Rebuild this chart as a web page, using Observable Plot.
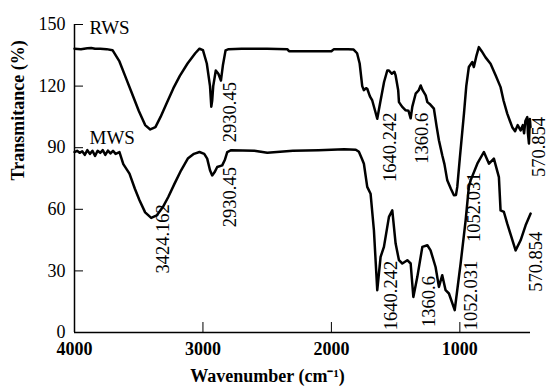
<!DOCTYPE html>
<html>
<head>
<meta charset="utf-8">
<script src="https://cdn.jsdelivr.net/npm/d3@7"></script>
<script src="https://cdn.jsdelivr.net/npm/@observablehq/plot@0.6"></script>
<style>
  html, body { margin: 0; padding: 0; background: #fff; }
  svg text { font-family: "Liberation Serif", "Times New Roman", serif; }
</style>
</head>
<body>
<div id="chart"></div>
<script>
// RWS spectrum (wavenumber cm-1, transmittance %)
const rwsWavenumber = [4000, 3950, 3900, 3870, 3840, 3800, 3750, 3704, 3650, 3600, 3550, 3500, 3450, 3410, 3370, 3330, 3280, 3230, 3180, 3120, 3060, 3027, 3000, 2970, 2945, 2935, 2928, 2920, 2900, 2880, 2860, 2845, 2824, 2800, 2700, 2600, 2500, 2344, 2330, 2000, 1980, 1870, 1827, 1800, 1780, 1760, 1747, 1730, 1721, 1700, 1682, 1660, 1643, 1620, 1590, 1565, 1552, 1530, 1510, 1500, 1480, 1474, 1450, 1422, 1400, 1383, 1370, 1344, 1320, 1305, 1290, 1266, 1253, 1230, 1202, 1180, 1163, 1137, 1120, 1098, 1070, 1046, 1030, 1020, 1000, 968, 950, 930, 903, 891, 870, 852, 830, 800, 761, 720, 683, 660, 631, 610, 592, 570, 550, 527, 510, 500, 490, 475, 470, 462, 455, 450];
const rwsT = [138.2, 138.0, 138.4, 138.6, 138.2, 138.2, 138.0, 137.5, 132, 124, 116, 108, 101, 98.9, 100, 105, 112, 119, 125, 131, 136, 138.2, 137.5, 131, 120, 110, 113, 120, 127.6, 126, 122.7, 130, 137.4, 138, 138.2, 138.2, 138.2, 138, 137, 137, 138, 138, 137.8, 136, 131, 120, 118, 119, 118.7, 115, 113, 108, 104.1, 112, 122, 127.6, 127.6, 126, 127, 125.2, 118, 112.2, 110, 108.2, 108, 104.3, 110, 116.3, 118, 120.3, 118, 115.5, 112.2, 111, 109, 100, 93.6, 86.3, 82, 74.1, 70, 66.8, 67, 70.9, 85, 106.6, 120, 129.3, 131.7, 129.3, 135, 139, 137, 134, 130.9, 125, 119.5, 113, 106.6, 103, 100, 98, 101, 98.4, 101, 97, 103, 104.9, 97, 92, 104, 100];

// MWS spectrum
const mwsWavenumber = [4000, 3980, 3960, 3940, 3920, 3900, 3880, 3860, 3840, 3820, 3800, 3780, 3760, 3740, 3720, 3700, 3680, 3650, 3620, 3572, 3530, 3494, 3450, 3403, 3360, 3312, 3270, 3221, 3170, 3118, 3070, 3027, 2990, 2967, 2945, 2928, 2910, 2889, 2850, 2830, 2811, 2780, 2600, 2499, 2300, 2100, 1900, 1810, 1786, 1765, 1747, 1721, 1695, 1669, 1643, 1617, 1591, 1552, 1526, 1500, 1474, 1448, 1409, 1383, 1362, 1331, 1292, 1253, 1228, 1189, 1163, 1137, 1111, 1085, 1040, 994, 955, 930, 916, 864, 813, 773, 735, 696, 683, 657, 631, 566, 527, 488, 449];
const mwsT = [87.9, 88.5, 87.5, 88.3, 86.5, 88.8, 87, 88.5, 86, 88.5, 87.5, 88.8, 86.5, 88.6, 87.2, 88.5, 87, 87.9, 82, 77.4, 70, 64.4, 58.5, 55.8, 57, 61.1, 66, 72.5, 79, 84.7, 87, 87.9, 87, 84.7, 79, 76.5, 78, 80.6, 81.4, 84, 87.9, 88.8, 88.5, 87.5, 88.5, 88.8, 89.3, 89, 88, 85, 82.2, 70.9, 67.6, 49.8, 20.6, 36.8, 41.7, 56.3, 59.5, 43.3, 35.2, 33.6, 35.2, 33.6, 17.3, 27.1, 41.7, 42.5, 40, 31.9, 22.2, 27.9, 20.6, 19, 10.9, 33.6, 54.6, 70.9, 74.1, 82.2, 87.9, 82.2, 84.7, 75.7, 59.5, 58.7, 53, 40, 44.9, 52.2, 57.9];

// Series names and their label anchors
const seriesNames = ["RWS", "MWS"];
const seriesLabelX = [3883, 3883];
const seriesLabelY = [145.6, 92.0];

// Peak annotations (text, anchor wavenumber, anchor transmittance)
const peakText = ["2930.45", "2930.45", "3424.162", "1640.242", "1360.6", "570.854", "1052.031", "1640.242", "1360.6", "1052.031", "570.854"];
const peakX = [2785, 2785, 3307, 1544, 1292, 385, 890, 1534, 1241, 916, 410];
const peakY = [92.7, 51.3, 28.7, 73.3, 82.2, 75.7, 44.1, 1.1, 2.7, 1.1, 19.8];

// Axis ticks
const xTicks = [4000, 3000, 2000, 1000];
const yTicks = [0, 30, 60, 90, 120, 150];

const rws = rwsWavenumber.map((w, i) => ({w, t: rwsT[i]}));
const mws = mwsWavenumber.map((w, i) => ({w, t: mwsT[i]}));
const series = seriesNames.map((name, i) => ({name, x: seriesLabelX[i], y: seriesLabelY[i]}));
const peaks = peakText.map((text, i) => ({text, x: peakX[i], y: peakY[i]}));

const serif = "Liberation Serif";

const chart = Plot.plot({
  width: 548,
  height: 386,
  marginLeft: 74,
  marginRight: 18,
  marginTop: 24,
  marginBottom: 54,
  style: {fontFamily: serif, background: "white", color: "black", overflow: "visible"},
  x: {domain: [4000, 450]},
  y: {domain: [0, 150]},
  marks: [
    Plot.text(peaks, {x: "x", y: "y", text: "text", rotate: -90, textAnchor: "start", lineAnchor: "middle",
      fontFamily: serif, fontSize: 18.5, fill: "black"}),
    Plot.line(rws, {x: "w", y: "t", stroke: "black", strokeWidth: 2.5, strokeLinejoin: "round"}),
    Plot.line(mws, {x: "w", y: "t", stroke: "black", strokeWidth: 2.5, strokeLinejoin: "round"}),
    Plot.text(series, {x: "x", y: "y", text: "name", textAnchor: "start", lineAnchor: "bottom", fontSize: 19,
      fontFamily: serif, fill: "black"}),
    Plot.ruleX([4000], {stroke: "black", strokeWidth: 1.5}),
    Plot.ruleY([0], {stroke: "black", strokeWidth: 1.5}),
    Plot.axisY(yTicks, {tickSize: 0, tickPadding: 9, fontSize: 18, fontFamily: serif, label: null, tickFormat: d => String(d)}),
    Plot.axisY(yTicks, {tickSize: -9, tickFormat: () => "", label: null}),
    Plot.axisX(xTicks, {tickSize: 0, tickPadding: 10, fontSize: 18, fontFamily: serif, fontWeight: "bold", label: null, tickFormat: d => String(d)}),
    Plot.axisX(xTicks, {tickSize: -10, tickFormat: () => "", label: null}),
    Plot.text(["Wavenumber (cm⁻¹)"], {frameAnchor: "bottom", dx: -35, dy: 49.5, lineAnchor: "bottom",
      fontSize: 18, fontWeight: "bold", fontFamily: serif, fill: "black"}),
    Plot.text(["Transmitance (%)"], {frameAnchor: "left", dx: -56, dy: 2, rotate: -90,
      fontSize: 18, fontWeight: "bold", fontFamily: serif, fill: "black"})
  ]
});
document.getElementById("chart").append(chart);
</script>
</body>
</html>
